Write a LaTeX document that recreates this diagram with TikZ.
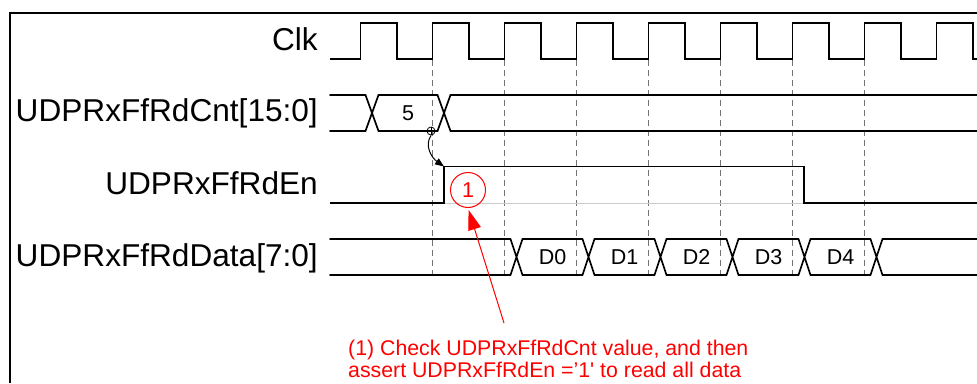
\documentclass[tikz,border=0pt]{standalone}
\usepackage{fontspec}
\setmainfont{Liberation Sans}
\usetikzlibrary{arrows.meta}
\definecolor{notered}{RGB}{255,0,0}

\tikzset{
    wave/.style={line width=1.7pt,line join=miter},
    bus/.style={line width=1.7pt,line cap=round},
    tick/.style={black!55,line width=1.4pt,dash pattern=on 6pt off 4pt},
    sig/.style={anchor=base east,inner sep=0pt,font=\fontsize{31.6}{34}\selectfont},
    val/.style={inner sep=0pt,font=\fontsize{21.5}{24}\selectfont},
}

\begin{document}
\begin{tikzpicture}[x=1pt,y=-1pt]
    \useasboundingbox (0,0) rectangle (977,383);

    % Frame
    \draw[line width=2.2pt] (10,383) -- (10,13) -- (977,13);

    % Signal names
    \node[sig] (clk) at (318,50) {Clk};
    \node[sig] (cnt) at (318,121) {UDPRxFfRdCnt[15:0]};
    \node[sig] (en) at (318,194) {UDPRxFfRdEn};
    \node[sig] (data) at (318,266) {UDPRxFfRdData[7:0]};

    % Clock edges
    \foreach \r in {432.5,504.5,...,864.5} {
        \draw[tick] (\r,60) -- (\r,277);
    }

    % Clk
    \draw[wave] (330,59) \foreach \r in {360.5,432.5,...,936.5} {
        -- (\r,59) -- (\r,23) -- (\r+36.5,23) -- (\r+36.5,59)
    } -- (977,59);

    % Read count
    \draw[bus] (330,95) -- (365.5,95) -- (378.5,131) -- (437.5,131) -- (450.5,95) -- (977,95);
    \draw[bus] (330,131) -- (365.5,131) -- (378.5,95) -- (437.5,95) -- (450.5,131) -- (977,131);
    \node[val] (five) at (408,113) {5};

    % Read enable
    \draw[gray!40,line width=1pt] (444,203) -- (804,203);
    \draw[wave] (330,203) -- (444,203) -- (444,166.5) -- (804,166.5) -- (804,203) -- (977,203);

    % Read data
    \draw[bus] (330,239) -- (510.5,239) (330,275) -- (510.5,275);
    \foreach \c in {516.5,588.5,...,876.5} {
        \draw[bus] (\c-6,239) -- (\c+6,275) (\c-6,275) -- (\c+6,239);
    }
    \foreach \c [count=\i from 0] in {516.5,588.5,...,804.5} {
        \draw[bus] (\c+6,239) -- (\c+66,239) (\c+6,275) -- (\c+66,275);
        \node[val] (d\i) at (\c+36,257) {D\i};
    }
    \draw[bus] (882.5,239) -- (977,239) (882.5,275) -- (977,275);

    % Check point
    \node[draw,circle,inner sep=0pt,minimum size=8pt,line width=0.8pt] (chk) at (431,131) {};
    \draw[line width=0.8pt] (chk.north) -- (chk.south) (chk.west) -- (chk.east);
    \coordinate (enrise) at (444,166.5);
    \draw[line width=1pt,-{Triangle[length=9pt,width=7pt]}] (chk.south) .. controls (424,146) and (432,158) .. (enrise);

    % Note
    \node[draw=notered,circle,line width=1pt,minimum size=35pt,inner sep=0pt,
        text=notered,font=\fontsize{21.5}{24}\selectfont] (mark) at (468,190) {1};
    \node[anchor=north west,align=left,inner sep=0pt,text=notered,
        font=\fontsize{21.3}{21.5}\selectfont] (note) at (348,340)
        {(1) Check UDPRxFfRdCnt value, and then\\assert UDPRxFfRdEn =’1\textquotesingle{} to read all data};
    \coordinate (tail) at (504,323);
    \draw[notered,line width=1pt,shorten >=2pt,-{Triangle[length=20pt,width=13pt]}] (tail) -- (mark.south);
\end{tikzpicture}
\end{document}
